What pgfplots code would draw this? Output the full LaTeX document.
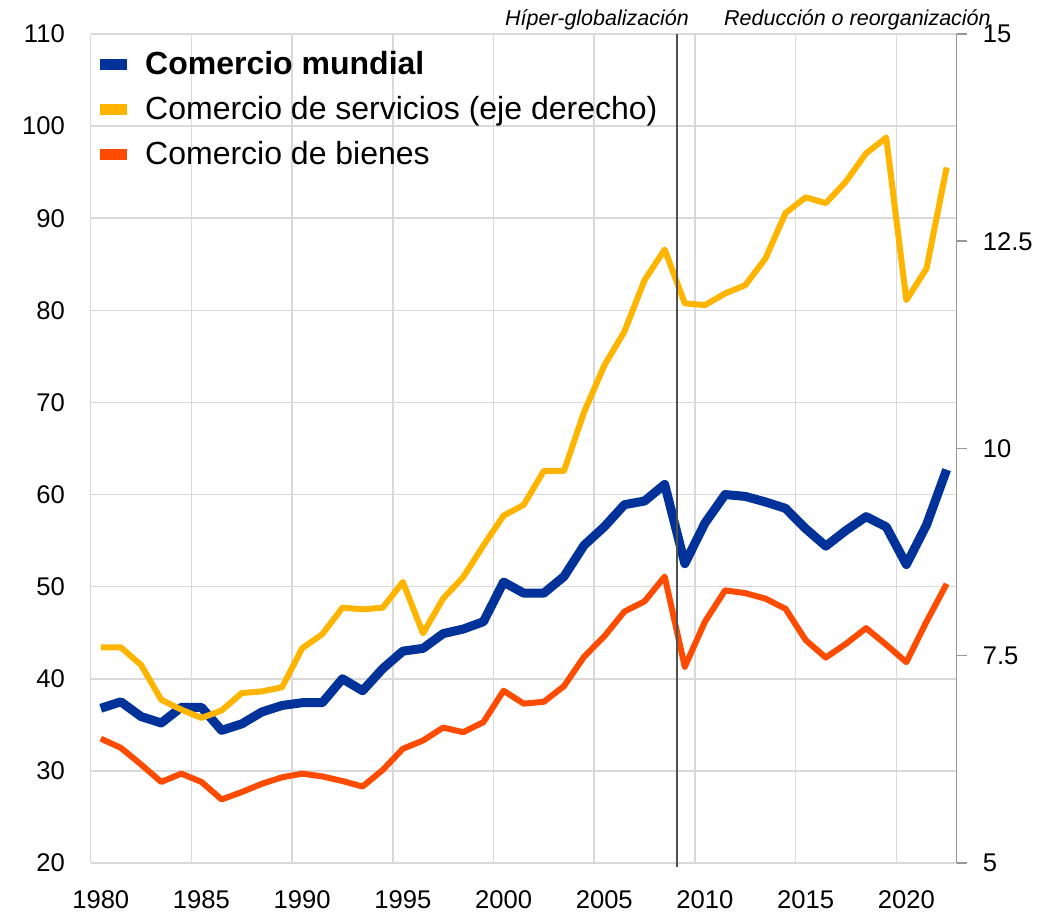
\documentclass[border=0pt]{standalone}
\usepackage{pgfplots}
\pgfplotsset{compat=1.18}
\usepackage{fontspec}
\setmainfont{Liberation Sans}
\definecolor{ecbblue}{RGB}{0,50,153}
\definecolor{ecbyellow}{RGB}{255,180,0}
\definecolor{ecbred}{RGB}{255,75,0}
\definecolor{gridgray}{RGB}{217,217,217}
\definecolor{axgray}{RGB}{150,150,150}
\definecolor{vlgray}{RGB}{80,80,80}

\pgfplotstableread{
year val
1980 36.8
1981 37.5
1982 35.9
1983 35.2
1984 36.9
1985 36.9
1986 34.4
1987 35.1
1988 36.4
1989 37.1
1990 37.4
1991 37.4
1992 40.0
1993 38.7
1994 41.1
1995 43.0
1996 43.3
1997 44.9
1998 45.4
1999 46.2
2000 50.5
2001 49.3
2002 49.3
2003 51.1
2004 54.5
2005 56.5
2006 58.9
2007 59.3
2008 61.1
2009 52.5
2010 56.9
2011 60.0
2012 59.8
2013 59.2
2014 58.5
2015 56.3
2016 54.4
2017 56.1
2018 57.6
2019 56.5
2020 52.4
2021 56.7
2022 62.7
}\mundial

\pgfplotstableread{
year val
1980 33.5
1981 32.5
1982 30.7
1983 28.8
1984 29.7
1985 28.8
1986 26.9
1987 27.7
1988 28.6
1989 29.3
1990 29.7
1991 29.4
1992 28.9
1993 28.3
1994 30.1
1995 32.4
1996 33.3
1997 34.7
1998 34.2
1999 35.3
2000 38.7
2001 37.3
2002 37.5
2003 39.2
2004 42.4
2005 44.6
2006 47.3
2007 48.4
2008 51.1
2009 41.3
2010 46.2
2011 49.6
2012 49.3
2013 48.7
2014 47.6
2015 44.2
2016 42.3
2017 43.8
2018 45.5
2019 43.7
2020 41.8
2021 46.2
2022 50.3
}\bienes

\pgfplotstableread{
year val
1980 7.60
1981 7.60
1982 7.39
1983 6.97
1984 6.85
1985 6.75
1986 6.84
1987 7.05
1988 7.07
1989 7.12
1990 7.59
1991 7.76
1992 8.08
1993 8.06
1994 8.08
1995 8.39
1996 7.77
1997 8.19
1998 8.45
1999 8.83
2000 9.19
2001 9.32
2002 9.73
2003 9.73
2004 10.44
2005 11.00
2006 11.41
2007 12.03
2008 12.40
2009 11.75
2010 11.73
2011 11.87
2012 11.97
2013 12.29
2014 12.84
2015 13.03
2016 12.96
2017 13.22
2018 13.56
2019 13.75
2020 11.79
2021 12.17
2022 13.39
}\servicios

\begin{document}
\begin{tikzpicture}
\path[use as bounding box] (-90.7pt,-53pt) rectangle (972.3pt,863pt);
\pgfplotsset{
  base/.style={
    scale only axis, width=866pt, height=829pt,
    xmin=1979.5, xmax=2022.5,
    /pgf/number format/assume math mode=true,
    tick label style={font=\fontsize{25.6}{30}\selectfont},
    line join=round,
  }
}
\begin{axis}[base,
  ymin=20, ymax=110, ytick={20,30,...,110},
  xtick={1980,1985,...,2020},
  xticklabels={1980,1985,1990,1995,2000,2005,2010,2015,2020},
  minor xtick={1984.5,1989.5,1994.5,1999.5,2004.5,2009.5,2014.5,2019.5},
  xminorgrids, ymajorgrids,
  grid style={gridgray, line width=1.5pt},
  minor grid style={gridgray, line width=1.5pt},
  major tick length=0pt, minor tick length=0pt,
  axis x line*=bottom, axis y line*=left,
  axis line style={gridgray, line width=1.5pt, -},
  yticklabel style={anchor=east, inner sep=0pt, xshift=-25.7pt},
  xticklabel style={anchor=north, inner sep=0pt, yshift=-27pt},
  legend style={at={(0,1)}, anchor=north west, xshift=9.3pt, yshift=-18.5pt,
    draw=none, fill=none, inner sep=0pt, column sep=18pt, row sep=16pt,
    font=\fontsize{32}{38}\selectfont,
    nodes={inner sep=0pt, text height=22pt, text depth=7pt}},
  legend cell align=left,
  legend image code/.code={\fill[draw=none] (0pt,-2.5pt) rectangle (27pt,8.5pt);},
]
\addplot[ecbblue, line width=9pt] table[x=year,y=val] {\mundial};
\addlegendentry{\textbf{Comercio mundial}}
\addlegendimage{ecbyellow, line width=6pt}
\addlegendentry{Comercio de servicios (eje derecho)}
\addplot[ecbred, line width=6pt] table[x=year,y=val] {\bienes};
\addlegendentry{Comercio de bienes}
\end{axis}
\begin{axis}[base,
  ymin=5, ymax=15, ytick={5,7.5,10,12.5,15},
  yticklabels={5,7.5,10,12.5,15},
  axis x line=none, axis y line*=right,
  axis line style={axgray, line width=1.5pt, -},
  tick style={axgray, line width=1.5pt},
  major tick length=10pt, tick align=outside,
  yticklabel style={anchor=west, inner sep=0pt, xshift=16pt},
  clip=false,
]
\addplot[ecbyellow, line width=6pt] table[x=year,y=val] {\servicios};
\draw[vlgray, line width=1.5pt] ([yshift=-4pt]axis cs:2008.6,5) -- (axis cs:2008.6,15);
\node[anchor=base east, inner sep=0pt, font=\itshape\fontsize{21.5}{25}\selectfont] at ([yshift=8pt]rel axis cs:0.6909,1) {Híper-globalización};
\node[anchor=base west, inner sep=0pt, font=\itshape\fontsize{21.5}{25}\selectfont] at ([yshift=8pt]rel axis cs:0.7313,1) {Reducción o reorganización};
\end{axis}
\end{tikzpicture}
\end{document}
